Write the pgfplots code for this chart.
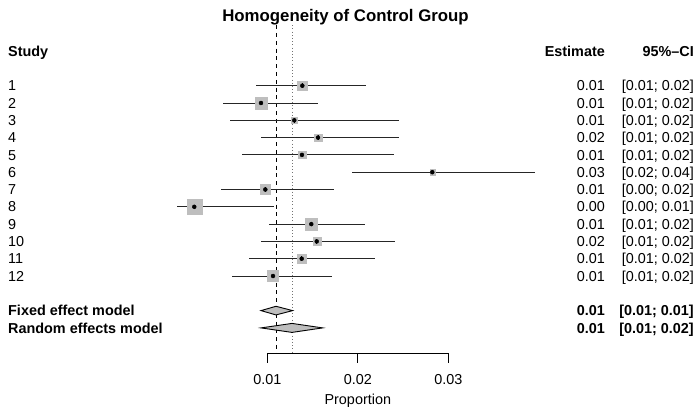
\documentclass[border=0pt]{standalone}
\usepackage{pgfplots}
\pgfplotsset{compat=1.18}
\usepackage{pgfplotstable}
\usepackage{fontspec}
\setmainfont{Liberation Sans}
\definecolor{sqgray}{RGB}{190,190,190}

% row, estimate, lower, upper
\pgfplotstableread{
row est lo hi
1 0.01387 0.00875 0.0209
2 0.0093 0.00509 0.01557
3 0.01298 0.0059 0.0245
4 0.0156 0.00927 0.02455
5 0.01383 0.00717 0.0240
6 0.02823 0.01936 0.0396
7 0.00978 0.00488 0.0174
8 0.00193 0.00006 0.01074
9 0.01486 0.0102 0.0208
10 0.01546 0.0093 0.0241
11 0.0138 0.0080 0.02187
12 0.01063 0.0061 0.0172
}\studies

\newcommand{\txt}{\fontsize{14.4bp}{17bp}\selectfont}
\tikzset{
  tx/.style={inner sep=0pt, font=\txt},
  tb/.style={inner sep=0pt, font=\txt\bfseries},
}
% weight square: x, row, half side
\newcommand{\sq}[3]{\addplot[only marks, mark=square*, mark size=#3,
  mark options={fill=sqgray, draw=sqgray, line width=0.2bp}] coordinates {(#1,#2)};}

\begin{document}
\begin{tikzpicture}
\useasboundingbox (0,0) rectangle (696bp,407bp);
\begin{axis}[
  at={(0,0)}, anchor=south west,
  scale only axis, width=696bp, height=407bp,
  hide axis, clip=false,
  xmin=-0.019536, xmax=0.057370,
  ymin=-3.954, ymax=19.572, y dir=reverse,
]
% pooled estimates
\addplot[black, line width=0.9bp, dash pattern=on 4bp off 3.8bp] coordinates {(0.01096,-2.5) (0.01096,16.49)};
\addplot[black!55, line width=0.9bp, dash pattern=on 1bp off 2.2bp] coordinates {(0.01273,-2.5) (0.01273,16.49)};

% study squares (size = weight)
\sq{0.01387}{1}{4.8}
\sq{0.0093}{2}{5.8}
\sq{0.01298}{3}{2.8}
\sq{0.0156}{4}{3.8}
\sq{0.01383}{5}{3.7}
\sq{0.02823}{6}{2.7}
\sq{0.00978}{7}{5.1}
\sq{0.00193}{8}{7.6}
\sq{0.01486}{9}{6.0}
\sq{0.01546}{10}{4.1}
\sq{0.0138}{11}{4.5}
\sq{0.01063}{12}{5.5}

% confidence intervals
\addplot[only marks, mark=none,
  error bars/.cd, x dir=both, x explicit, error mark=none,
  error bar style={line width=1bp, black!85},
] table[x=est, y=row,
  x error plus expr=\thisrow{hi}-\thisrow{est},
  x error minus expr=\thisrow{est}-\thisrow{lo}] {\studies};

\addplot[only marks, mark=|, mark size=2.3, mark options={line width=0.8bp, black}]
  table[x=est, y=row] {\studies};

% diamonds
\addplot[fill=sqgray, draw=black, line width=0.9bp] coordinates {(0.0093,14) (0.01096,13.75) (0.0128,14) (0.01096,14.25)} -- cycle;
\addplot[fill=sqgray, draw=black, line width=0.9bp] coordinates {(0.0093,15) (0.01273,14.74) (0.01612,15) (0.01273,15.26)} -- cycle;

% x axis
\draw[line width=0.9bp] (axis cs:0.01,17.0) -- (axis cs:0.01,16.49) -- (axis cs:0.03,16.49) -- (axis cs:0.03,17.0);
\draw[line width=0.9bp] (axis cs:0.02,16.49) -- (axis cs:0.02,17.0);
\node[tx, anchor=base] at (axis cs:0.01,18.3) {0.01};
\node[tx, anchor=base] at (axis cs:0.02,18.3) {0.02};
\node[tx, anchor=base] at (axis cs:0.03,18.3) {0.03};
\node[tx, anchor=base] at (axis cs:0.02,19.42) {Proportion};

% title and headers
\node[anchor=base, inner sep=0pt, font=\fontsize{16.8bp}{20bp}\selectfont\bfseries] at (axis cs:0.018641,-2.74) {Homogeneity of Control Group};
\node[tb, anchor=base west] at (axis cs:-0.018652,-0.7) {Study};
\node[tb, anchor=base east] at (axis cs:0.047315,-0.7) {Estimate};
\node[tb, anchor=base east] at (axis cs:0.057149,-0.7) {95\%--CI};

% study labels
\node[tx, anchor=base west] at (axis cs:-0.018652,1.3) {1};
\node[tx, anchor=base west] at (axis cs:-0.018652,2.3) {2};
\node[tx, anchor=base west] at (axis cs:-0.018652,3.3) {3};
\node[tx, anchor=base west] at (axis cs:-0.018652,4.3) {4};
\node[tx, anchor=base west] at (axis cs:-0.018652,5.3) {5};
\node[tx, anchor=base west] at (axis cs:-0.018652,6.3) {6};
\node[tx, anchor=base west] at (axis cs:-0.018652,7.3) {7};
\node[tx, anchor=base west] at (axis cs:-0.018652,8.3) {8};
\node[tx, anchor=base west] at (axis cs:-0.018652,9.3) {9};
\node[tx, anchor=base west] at (axis cs:-0.018652,10.3) {10};
\node[tx, anchor=base west] at (axis cs:-0.018652,11.3) {11};
\node[tx, anchor=base west] at (axis cs:-0.018652,12.3) {12};
\node[tb, anchor=base west] at (axis cs:-0.018652,14.3) {Fixed effect model};
\node[tb, anchor=base west] at (axis cs:-0.018652,15.3) {Random effects model};

% estimates
\node[tx, anchor=base east] at (axis cs:0.047315,1.3) {0.01};
\node[tx, anchor=base east] at (axis cs:0.047315,2.3) {0.01};
\node[tx, anchor=base east] at (axis cs:0.047315,3.3) {0.01};
\node[tx, anchor=base east] at (axis cs:0.047315,4.3) {0.02};
\node[tx, anchor=base east] at (axis cs:0.047315,5.3) {0.01};
\node[tx, anchor=base east] at (axis cs:0.047315,6.3) {0.03};
\node[tx, anchor=base east] at (axis cs:0.047315,7.3) {0.01};
\node[tx, anchor=base east] at (axis cs:0.047315,8.3) {0.00};
\node[tx, anchor=base east] at (axis cs:0.047315,9.3) {0.01};
\node[tx, anchor=base east] at (axis cs:0.047315,10.3) {0.02};
\node[tx, anchor=base east] at (axis cs:0.047315,11.3) {0.01};
\node[tx, anchor=base east] at (axis cs:0.047315,12.3) {0.01};
\node[tb, anchor=base east] at (axis cs:0.047315,14.3) {0.01};
\node[tb, anchor=base east] at (axis cs:0.047315,15.3) {0.01};

% confidence intervals
\node[tx, anchor=base east] at (axis cs:0.057149,1.3) {[0.01; 0.02]};
\node[tx, anchor=base east] at (axis cs:0.057149,2.3) {[0.01; 0.02]};
\node[tx, anchor=base east] at (axis cs:0.057149,3.3) {[0.01; 0.02]};
\node[tx, anchor=base east] at (axis cs:0.057149,4.3) {[0.01; 0.02]};
\node[tx, anchor=base east] at (axis cs:0.057149,5.3) {[0.01; 0.02]};
\node[tx, anchor=base east] at (axis cs:0.057149,6.3) {[0.02; 0.04]};
\node[tx, anchor=base east] at (axis cs:0.057149,7.3) {[0.00; 0.02]};
\node[tx, anchor=base east] at (axis cs:0.057149,8.3) {[0.00; 0.01]};
\node[tx, anchor=base east] at (axis cs:0.057149,9.3) {[0.01; 0.02]};
\node[tx, anchor=base east] at (axis cs:0.057149,10.3) {[0.01; 0.02]};
\node[tx, anchor=base east] at (axis cs:0.057149,11.3) {[0.01; 0.02]};
\node[tx, anchor=base east] at (axis cs:0.057149,12.3) {[0.01; 0.02]};
\node[tb, anchor=base east] at (axis cs:0.057149,14.3) {[0.01; 0.01]};
\node[tb, anchor=base east] at (axis cs:0.057149,15.3) {[0.01; 0.02]};
\end{axis}
\end{tikzpicture}
\end{document}
